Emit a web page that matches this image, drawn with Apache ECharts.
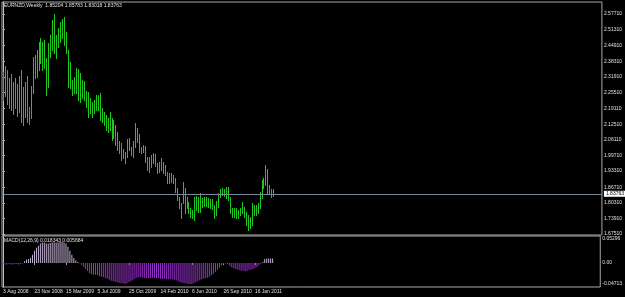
<!DOCTYPE html>
<html>
<head>
<meta charset="utf-8">
<script src="https://cdn.jsdelivr.net/npm/echarts@6/dist/echarts.min.js"></script>
<style>
html, body { margin: 0; padding: 0; background: #000; }
#chart { width: 625px; height: 297px; }
</style>
</head>
<body>
<div id="chart"></div>
<script>
// weekly bars, 3 Aug 2008 onwards
var highs = [
	2.3393, 2.3639, 2.3475, 2.3147, 2.3311, 2.2983, 2.3147, 2.2901, 2.3229, 2.3475,
	2.2778, 2.2983, 2.3229, 2.1958, 2.2819, 2.4008, 2.4090, 2.4295, 2.4623, 2.4787,
	2.4623, 2.4705, 2.3967, 2.4582, 2.4910, 2.5525, 2.5771, 2.4910, 2.5197, 2.5443,
	2.5566, 2.5648, 2.5033, 2.4295, 2.3803, 2.3065, 2.3188, 2.3557, 2.3516, 2.3352,
	2.3065, 2.3024, 2.2614, 2.2573, 2.2327, 2.2163, 2.2245, 2.2450, 2.2450, 2.2532,
	2.1917, 2.1753, 2.1630, 2.1507, 2.1753, 2.1507, 2.1425, 2.1220, 2.0933, 2.0564,
	2.0482, 2.0236, 2.0113, 2.0646, 2.0687, 2.0318, 2.0564, 2.1302, 2.1097, 2.0851,
	2.0318, 2.0400, 2.0359, 1.9908, 1.9908, 1.9990, 2.0072, 2.0031, 1.9662, 1.9703,
	1.9867, 1.9703, 1.9580, 1.9293, 1.9252, 1.9252, 1.9170, 1.9047, 1.8637, 1.8268,
	1.8022, 1.8883, 1.8637, 1.8268, 1.8063, 1.7817, 1.7735, 1.8268, 1.8309, 1.8268,
	1.8432, 1.8227, 1.8268, 1.8268, 1.8227, 1.8186, 1.8186, 1.7940, 1.8104, 1.8432,
	1.8596, 1.8637, 1.8596, 1.8678, 1.8678, 1.8268, 1.7817, 1.7817, 1.7817, 1.7735,
	1.7817, 1.8063, 1.7858, 1.7653, 1.7530, 1.7448, 1.8022, 1.7940, 1.7940, 1.8022,
	1.8473, 1.8965, 1.9047, 1.9580, 1.9416, 1.8760, 1.8596, 1.8578
];
var lows = [
	2.2245, 2.2409, 2.2081, 2.1917, 2.1835, 2.1671, 2.1917, 2.1589, 2.1753, 2.1343,
	2.1220, 2.1548, 2.1343, 2.1261, 2.1507, 2.2532, 2.3147, 2.3188, 2.3475, 2.3762,
	2.3475, 2.3557, 2.2450, 2.2778, 2.4008, 2.4295, 2.4172, 2.3967, 2.4418, 2.4623,
	2.4787, 2.4500, 2.4172, 2.2778, 2.2737, 2.2450, 2.2532, 2.2532, 2.2245, 2.2163,
	2.2327, 2.2245, 2.1958, 2.1548, 2.1712, 2.1548, 2.1712, 2.1835, 2.1835, 2.1425,
	2.1343, 2.1220, 2.1015, 2.0933, 2.1015, 2.0605, 2.0687, 2.0400, 2.0195, 2.0072,
	1.9785, 1.9867, 1.9662, 1.9908, 2.0195, 1.9990, 1.9908, 2.0318, 2.0523, 2.0113,
	2.0072, 2.0113, 1.9703, 1.9375, 1.9293, 1.9498, 1.9662, 1.9539, 1.9252, 1.9293,
	1.9375, 1.9252, 1.9170, 1.8842, 1.8842, 1.8883, 1.8842, 1.8473, 1.8145, 1.7817,
	1.7407, 1.8022, 1.7612, 1.7817, 1.7612, 1.7448, 1.7407, 1.7325, 1.7735, 1.7653,
	1.7653, 1.7858, 1.7899, 1.7899, 1.7858, 1.7817, 1.7776, 1.7407, 1.7530, 1.7858,
	1.8268, 1.8350, 1.8309, 1.8227, 1.8145, 1.7612, 1.7448, 1.7448, 1.7407, 1.7407,
	1.7530, 1.7612, 1.7448, 1.7120, 1.6915, 1.6997, 1.7120, 1.7530, 1.7530, 1.7612,
	1.7817, 1.8227, 1.8637, 1.8760, 1.8432, 1.8432, 1.8268, 1.8302
];
var macdHist = [
	-0.002, -0.003, -0.003, -0.002, -0.003, -0.003, -0.002, -0.002, -0.003, -0.002,
	-0.001, 0.004, 0.007, 0.008, 0.010, 0.016, 0.024, 0.030, 0.034, 0.038,
	0.040, 0.040, 0.038, 0.038, 0.039, 0.040, 0.040, 0.040, 0.040, 0.041,
	0.041, 0.040, 0.038, 0.032, 0.024, 0.016, 0.010, 0.005, 0.002, -0.001,
	-0.004, -0.008, -0.012, -0.016, -0.020, -0.022, -0.023, -0.023, -0.024, -0.026,
	-0.027, -0.028, -0.030, -0.031, -0.033, -0.035, -0.036, -0.037, -0.038, -0.039,
	-0.040, -0.040, -0.041, -0.040, -0.038, -0.036, -0.034, -0.031, -0.029, -0.028,
	-0.028, -0.029, -0.030, -0.030, -0.030, -0.030, -0.029, -0.029, -0.030, -0.030,
	-0.031, -0.031, -0.031, -0.032, -0.032, -0.032, -0.032, -0.033, -0.034, -0.036,
	-0.038, -0.039, -0.040, -0.040, -0.041, -0.041, -0.041, -0.040, -0.038, -0.036,
	-0.034, -0.032, -0.031, -0.030, -0.029, -0.027, -0.024, -0.021, -0.017, -0.013,
	-0.009, -0.005, -0.002, -0.001, -0.002, -0.005, -0.008, -0.010, -0.012, -0.013,
	-0.014, -0.015, -0.015, -0.016, -0.016, -0.014, -0.013, -0.012, -0.010, -0.008,
	-0.005, -0.002, 0.002, 0.008, 0.009, 0.009, 0.009, 0.009
];

var dateTicks = [0, 16, 32, 48, 64, 80, 96, 112, 128];
var dateLabels = ['3 Aug 2008', '23 Nov 2008', '15 Mar 2009', '5 Jul 2009', '25 Oct 2009',
	'14 Feb 2010', '6 Jun 2010', '26 Sep 2010', '16 Jan 2011'];
var priceTicks = [2.57710, 2.51310, 2.44910, 2.38310, 2.31910, 2.25510, 2.19110, 2.12510,
	2.06110, 1.99710, 1.93310, 1.86710, 1.80310, 1.73910, 1.67510];
var macdTickPos = [0.0471, 0, -0.0412];
var macdTickLabels = ['0.05296', '0.00', '-0.04713'];
var lastBar = ['1.85204', '1.85783', '1.83018', '1.83763'];
var lastPrice = 1.83763;
var macdValues = ['0.018343', '0.005684'];

var font = 'Liberation Sans';
var txt = '#e0e0e0';

var myChart = echarts.init(document.getElementById('chart'));

function renderBar(params, api) {
	var i = api.value(0);
	var top = api.coord([i, api.value(1)]);
	var bot = api.coord([i, api.value(2)]);
	var x = Math.round(top[0]) + 0.5;
	return {
		type: 'line',
		shape: { x1: x, y1: Math.round(top[1]), x2: x, y2: Math.round(bot[1]) + 1 },
		style: { stroke: '#1ec81e', lineWidth: 1 }
	};
}

myChart.setOption({
	backgroundColor: '#000',
	animation: false,
	title: [{
		text: 'EURNZD,Weekly  ' + lastBar.join(' '),
		left: 4, top: 3, padding: 0,
		textStyle: { color: txt, fontSize: 5, fontWeight: 'normal', fontFamily: font }
	}, {
		text: 'MACD(12,26,9) ' + macdValues.join(' '),
		left: 4, top: 238.5, padding: 0,
		textStyle: { color: txt, fontSize: 5, fontWeight: 'normal', fontFamily: font }
	}],
	grid: [{
		left: 2, top: 2, right: 21, height: 233,
		show: true, borderColor: '#a8a8a8', borderWidth: 1
	}, {
		left: 2, top: 236, right: 21, height: 51,
		show: true, borderColor: '#a8a8a8', borderWidth: 1
	}],
	xAxis: [{
		type: 'value', gridIndex: 0, min: -0.5, max: 303.5, show: false
	}, {
		type: 'value', gridIndex: 1, min: -0.5, max: 303.5,
		axisLine: { show: false },
		splitLine: { show: false },
		axisTick: { show: true, length: 2, customValues: dateTicks, lineStyle: { color: '#a8a8a8' } },
		axisLabel: {
			customValues: dateTicks,
			color: txt, fontSize: 5, fontFamily: font, margin: 2, align: 'left',
			formatter: function(v) {
				var k = dateTicks.indexOf(Math.round(v));
				return k >= 0 ? dateLabels[k] : '';
			}
		}
	}],
	yAxis: [{
		type: 'value', gridIndex: 0, position: 'right',
		min: 1.6710, max: 2.6263,
		axisLine: { show: true, lineStyle: { color: '#c0c0c0' } },
		splitLine: { show: false },
		axisTick: { show: true, length: 2, customValues: priceTicks, lineStyle: { color: '#c0c0c0' } },
		axisLabel: {
			customValues: priceTicks,
			color: txt, fontSize: 5, fontFamily: font, margin: 2,
			formatter: function(v) { return v.toFixed(5); }
		}
	}, {
		type: 'value', gridIndex: 1, position: 'right',
		min: -0.04713, max: 0.05296,
		axisLine: { show: true, lineStyle: { color: '#c0c0c0' } },
		splitLine: { show: false },
		axisTick: { show: false },
		axisLabel: {
			customValues: macdTickPos,
			color: txt, fontSize: 5, fontFamily: font, margin: 2,
			formatter: function(v) {
				var best = 0;
				macdTickPos.forEach(function(p, k) {
					if (Math.abs(p - v) < Math.abs(macdTickPos[best] - v)) best = k;
				});
				return macdTickLabels[best];
			}
		}
	}],
	series: [{
		type: 'custom',
		xAxisIndex: 0, yAxisIndex: 0,
		renderItem: renderBar,
		encode: { x: 0, y: [1, 2] },
		data: highs.map(function(h, i) { return [i, h, lows[i]]; }),
		markLine: {
			silent: true,
			symbol: 'none',
			lineStyle: { color: '#778899', type: 'solid', width: 1 },
			label: {
				show: true, position: 'end', distance: 2,
				formatter: lastPrice.toFixed(5),
				backgroundColor: '#fff', color: '#000',
				fontSize: 5, fontFamily: font, padding: [1, 2, 0, 2]
			},
			data: [{ yAxis: lastPrice }]
		}
	}, {
		type: 'bar',
		xAxisIndex: 1, yAxisIndex: 1,
		barWidth: 1,
		data: macdHist.map(function(v, i) { return [i, v]; }),
		itemStyle: {
			color: function(p) { return p.value[1] >= 0 ? '#c0b0d0' : '#9932cc'; }
		}
	}]
});
</script>
</body>
</html>
